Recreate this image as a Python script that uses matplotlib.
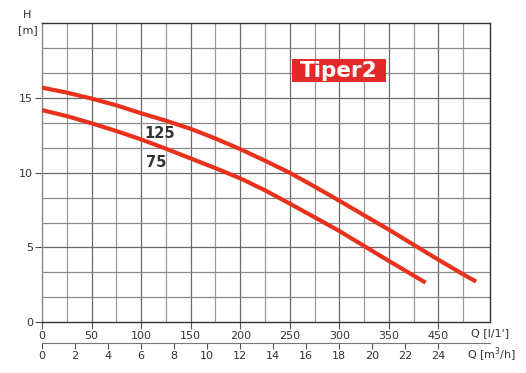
import matplotlib
matplotlib.use("Agg")
import matplotlib.pyplot as plt
from matplotlib.patches import Rectangle

# ---- data ----
q_125 = [0, 25, 50, 75, 100, 125, 150, 175, 200, 225, 250, 275, 300, 325, 350, 375, 400, 425, 438]
h_125 = [15.68, 15.35, 14.95, 14.5, 13.97, 13.47, 12.93, 12.28, 11.57, 10.8, 9.99, 9.07, 8.12,
         7.15, 6.19, 5.18, 4.18, 3.2, 2.72]
q_75 = [0, 25, 50, 75, 100, 125, 150, 175, 200, 225, 250, 275, 300, 325, 350, 375, 387]
h_75 = [14.18, 13.78, 13.3, 12.78, 12.22, 11.6, 10.95, 10.3, 9.62, 8.82, 7.93, 7.02, 6.1,
        5.1, 4.1, 3.12, 2.65]

q_ticks = [0, 50, 100, 150, 200, 250, 300, 350, 400]
q_tick_labels = ["0", "50", "100", "150", "200", "250", "300", "350", "450"]
m3h_ticks = [0, 2, 4, 6, 8, 10, 12, 14, 16, 18, 20, 22, 24]
h_ticks = [0, 5, 10, 15]

W, H = 526, 373
fig = plt.figure(figsize=(W / 100, H / 100), dpi=100)
L, R, B, T = 42, 490, 322.3, 23
ax = fig.add_axes([L / W, 1 - B / H, (R - L) / W, (B - T) / H])

red = "#e8321e"
txt = "#333333"

# grid
for i in range(1, 18):
    ax.axvline(i * 25, color="#6a6a6a" if i % 2 == 0 else "#9a9a9a", lw=0.9, zorder=1)
for i in range(1, 12):
    ax.axhline(i * 20 / 12, color="#6a6a6a" if i % 3 == 0 else "#8a8a8a", lw=0.9, zorder=1)

ax.plot(q_125, h_125, color=red, lw=3.0, solid_capstyle="butt", solid_joinstyle="round", zorder=3)
ax.plot(q_75, h_75, color=red, lw=3.0, solid_capstyle="butt", solid_joinstyle="round", zorder=3)

ax.set_xlim(0, 452)
ax.set_ylim(0, 20)

for s in ax.spines.values():
    s.set_color("#333333")
    s.set_linewidth(1.0)
ax.spines["left"].set_color("#888888")

ax.set_xticks(q_ticks)
ax.set_xticklabels(q_tick_labels)
ax.set_yticks(h_ticks)
ax.tick_params(axis="both", direction="out", length=5, width=0.8, color="#555555",
               labelsize=8, labelcolor=txt, pad=1.5)

# second Q axis (m3/h)
sec = ax.secondary_xaxis(-0.069, functions=(lambda q: q * 60 / 1000, lambda m: m * 1000 / 60))
sec.set_xticks(m3h_ticks)
sec.tick_params(direction="out", length=4, width=0.8, color="#555555", labelsize=8,
                labelcolor=txt, pad=1.5)
sec.spines["bottom"].set_color("#777777")

# axis labels
fig.text(27 / W, 1 - 15 / H, "H", fontsize=8, color=txt, ha="center", va="center")
fig.text(28 / W, 1 - 30 / H, "[m]", fontsize=8, color=txt, ha="center", va="center")
fig.text(490 / W, 1 - 333 / H, "Q [l/1']", fontsize=8, color=txt, ha="center", va="center")
fig.text(492 / W, 1 - 355 / H, "Q [m$^3$/h]", fontsize=8, color=txt, ha="center", va="center")

# curve labels
fig.text(160 / W, 1 - 133 / H, "125", fontsize=10.5, fontweight="bold", color=txt, ha="center", va="center")
fig.text(156.5 / W, 1 - 162 / H, "75", fontsize=10.5, fontweight="bold", color=txt, ha="center", va="center")

# Tiper2 logo
fig.patches.append(Rectangle((292 / W, 1 - 82 / H), 94 / W, 23 / H, transform=fig.transFigure,
                             facecolor="#e32a28", edgecolor="none", zorder=5))
fig.text(339 / W, 1 - 71 / H, "Tiper2", fontsize=15.5, fontweight="bold", color="white",
         ha="center", va="center", zorder=6)

fig.savefig("out.png", dpi=100)
